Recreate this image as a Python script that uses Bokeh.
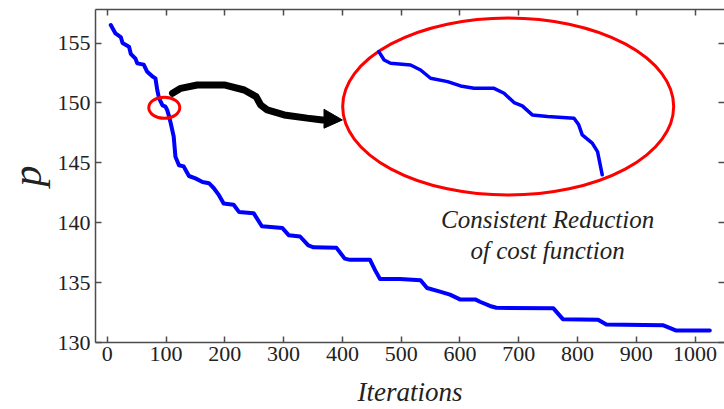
import numpy as np
from bokeh.plotting import figure
from bokeh.models import LinearAxis, Range1d, FixedTicker, CustomJSTickFormatter
from bokeh.core.properties import value
from bokeh.embed import file_html
from bokeh.resources import INLINE

# ---- data ----
iterations = [6, 14, 23, 26, 37, 40, 48, 51, 62, 68,
              77, 82, 85, 88, 94, 99, 102, 105, 108, 113,
              116, 122, 130, 139, 150, 162, 173, 181, 190, 198,
              215, 224, 249, 263, 298, 309, 328, 342, 351, 390,
              404, 413, 447, 456, 464, 498, 533, 544, 566, 583,
              600, 626, 634, 651, 662, 759, 775, 835, 849, 945,
              968, 1025]
cost = [156.5, 155.8, 155.5, 155.0, 154.7, 154.1, 153.7, 153.3, 153.2, 152.6,
        152.2, 152.05, 151.1, 150.4, 149.8, 149.7, 149.4, 148.9, 148.3, 147.2,
        145.5, 144.8, 144.7, 143.9, 143.7, 143.4, 143.3, 142.9, 142.3, 141.6,
        141.5, 140.9, 140.8, 139.7, 139.55, 138.95, 138.85, 138.1, 137.95, 137.9,
        137.0, 136.9, 136.9, 136.0, 135.3, 135.3, 135.2, 134.55, 134.25, 134.0,
        133.6, 133.6, 133.4, 133.05, 132.9, 132.85, 131.95, 131.9, 131.5, 131.45,
        131.0, 131.0]

# magnified view of the curve drawn inside the large ellipse (plot coordinates)
inset_x = [462, 471, 482, 516, 533, 550, 579, 601, 624, 658, 675, 692,
           706, 723, 749, 794, 802, 808, 825, 834, 842]
inset_y = [154.28, 153.58, 153.31, 153.17, 152.75, 152.06, 151.78, 151.42,
           151.22, 151.22, 150.81, 150.03, 149.75, 149.0, 148.86, 148.73,
           148.17, 147.33, 146.64, 145.94, 144.0]

# curved arrow path and head (plot coordinates)
arrow_x = [111, 125, 153, 199, 233, 253, 261, 272, 301, 340, 366]
arrow_y = [150.81, 151.22, 151.5, 151.5, 151.08, 150.53, 149.83, 149.42,
           149.0, 148.73, 148.58]
head_x = [368.7, 400.0, 368.7]
head_y = [149.47, 148.58, 147.89]

x_ticks = [0, 100, 200, 300, 400, 500, 600, 700, 800, 900, 1000]
y_ticks = [130, 135, 140, 145, 150, 155]

note_lines = ["Consistent Reduction", "of cost function"]

FONT = "Liberation Serif"
AX = "#4d4d4d"

p = figure(width=724, height=409, output_backend="svg", toolbar_location=None,
           x_range=Range1d(-20, 1050), y_range=Range1d(130, 157.8),
           min_border_left=95, min_border_right=0, min_border_top=9,
           min_border_bottom=66,
           x_axis_label="Iterations", y_axis_label="p")
p.grid.visible = False
p.outline_line_color = None
p.background_fill_color = "white"
p.border_fill_color = "white"


def style(ax, labels=True):
    ax.axis_line_color = AX
    ax.axis_line_width = 1.5
    ax.major_tick_line_color = AX
    ax.major_tick_line_width = 1.5
    ax.major_tick_in = 6
    ax.major_tick_out = 0
    ax.minor_tick_line_color = None
    if labels:
        ax.major_label_text_font = FONT
        ax.major_label_text_font_size = "22px"
        ax.major_label_text_color = "#222222"
        ax.axis_label_text_font = FONT
        ax.axis_label_text_font_style = "italic"
        ax.axis_label_text_color = "#222222"
    else:
        ax.formatter = CustomJSTickFormatter(code="return ''")
        ax.major_label_text_font_size = "0px"
        ax.major_label_standoff = 0
        ax.axis_label_standoff = 0


p.xaxis.ticker = FixedTicker(ticks=x_ticks)
p.yaxis.ticker = FixedTicker(ticks=y_ticks)
style(p.xaxis[0])
style(p.yaxis[0])
p.xaxis.axis_label_text_font_size = "27px"
p.xaxis.major_label_standoff = 4
p.xaxis.axis_label_standoff = 13
p.yaxis.axis_label_text_font_size = "42px"
p.yaxis.major_label_standoff = 5
p.yaxis.axis_label_standoff = 5

top = LinearAxis(ticker=FixedTicker(ticks=x_ticks))
style(top, labels=False)
p.add_layout(top, "above")
right = LinearAxis(ticker=FixedTicker(ticks=y_ticks))
style(right, labels=False)
right.axis_line_color = None
p.add_layout(right, "right")

# main curve
p.line(iterations, cost, line_color="#0000ff", line_width=4,
       line_join="round", line_cap="round")

# small highlight ellipse
p.ellipse(x=[97], y=[149.6], width=31, height=21, width_units="screen",
          height_units="screen", fill_color=None, line_color="#ff0000", line_width=3)

# arrow
p.line(arrow_x, arrow_y, line_color="black", line_width=7,
       line_join="round", line_cap="round")
p.patch(head_x, head_y, fill_color="black", line_color="black", line_width=1)

# large ellipse with magnified curve
p.ellipse(x=[682], y=[149.7], width=331, height=177, width_units="screen",
          height_units="screen", fill_color=None, line_color="#ff0000", line_width=3)
p.line(inset_x, inset_y, line_color="#0000ff", line_width=3.5,
       line_join="round", line_cap="round")

# note
p.text(x=[749, 749], y=[140.25, 137.65], text=note_lines,
       text_font=value(FONT), text_font_style="italic", text_font_size="25px",
       text_align="center", text_baseline="alphabetic", text_color="#222222")

open("out.html", "w").write(file_html(p, INLINE))
